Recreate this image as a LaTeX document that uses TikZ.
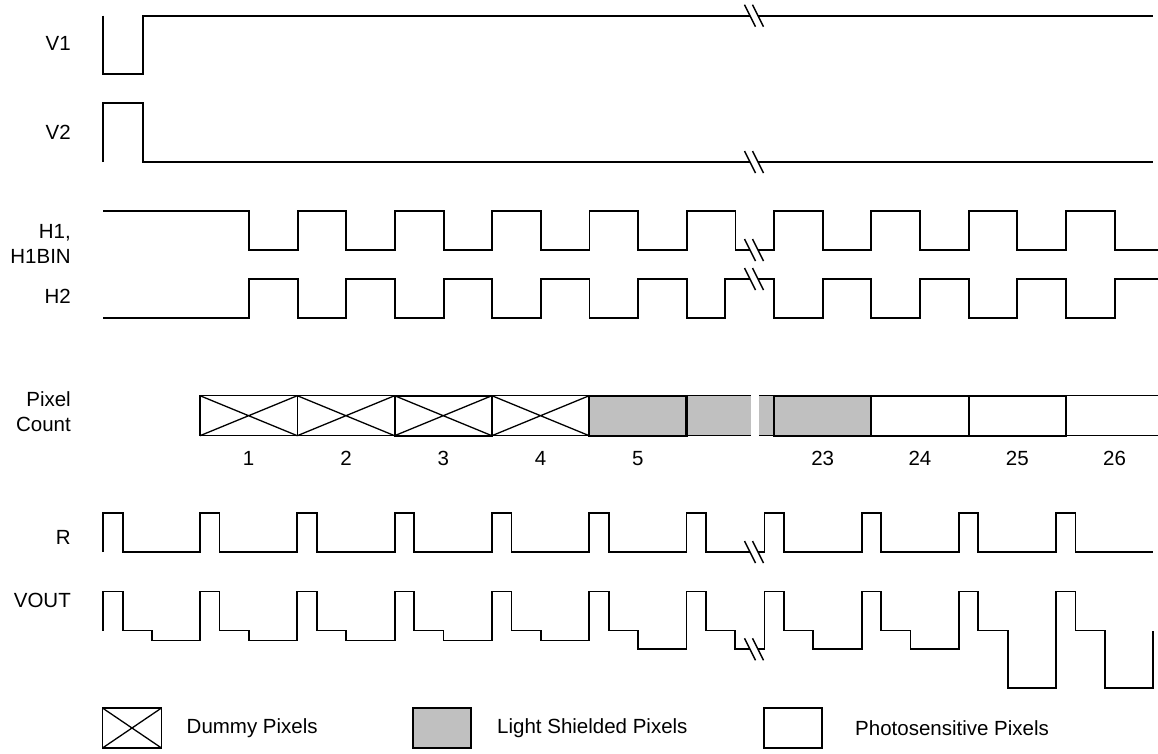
\documentclass[tikz,border=0pt]{standalone}
\usepackage{fontspec}
\setmainfont{Liberation Sans}
\usetikzlibrary{positioning}
\definecolor{shieldgray}{RGB}{192,192,192}
\newcommand{\brkmark}[1]{\foreach \bx in {750,758}{\draw[slash] ({\bx-5.5},{#1-11}) -- ++(11,22);}}
\begin{document}
\begin{tikzpicture}[x=1pt, y=-1pt,
    wave/.style={line width=1.8pt, line join=miter},
    slash/.style={line width=1.5pt},
    thinline/.style={line width=1.3pt},
    lbl/.style={anchor=east, inner sep=0pt, align=right, font=\fontsize{20.5}{25}\selectfont},
    txt/.style={inner sep=0pt, font=\fontsize{20.5}{25}\selectfont},
    pixbox/.style={draw, line width=1.3pt, minimum width=97.3pt, minimum height=40pt, inner sep=0pt, outer sep=0pt},
    boldbox/.style={pixbox, line width=2.2pt},
    shielded/.style={fill=shieldgray}
]
\useasboundingbox (0,0) rectangle (1158,753);

\node[lbl] (lv1) at (71,43.5) {V1};
\node[lbl] (lv2) at (71,132.5) {V2};
\node[lbl] (lh1) at (71,244) {H1,\\H1BIN};
\node[lbl] (lh2) at (71,296) {H2};
\node[lbl] (lpc) at (71,412) {Pixel\\Count};
\node[lbl] (lr) at (71,537.5) {R};
\node[lbl] (lvout) at (71,600) {VOUT};

\draw[wave] (103,15.7) -- (103,74) -| (143,15.7) -- (750,15.7);
\draw[wave] (758,15.7) -- (1153,15.7);
\draw[wave] (103,162) -- (103,103) -| (143,162) -- (750,162);
\draw[wave] (758,162) -- (1153,162);

\draw[wave] (103,211) foreach \tk in {249,346.3,443.6,540.9,638.2} {-| (\tk,250) -| ({\tk+48.6},211)} -| (735.5,250) -- (750,250);
\draw[wave] (758,250) -| (774,211) foreach \tk in {822.7,920,1017.3} {-| (\tk,250) -| ({\tk+48.6},211)} -| (1114.6,250) -- (1158,250);
\draw[wave] (103,318) foreach \tk in {249,346.3,443.6,540.9,638.2} {-| (\tk,279) -| ({\tk+48.6},318)} -| (725,279) -- (750,279);
\draw[wave] (758,279) -| (774,318) foreach \tk in {822.7,920,1017.3} {-| (\tk,279) -| ({\tk+48.6},318)} -| (1114.6,279) -- (1158,279);

\draw[wave] (103,552) -- (103,513) -| (122.7,552) foreach \tk in {200,297.3,394.6,491.9,589.2,686.5} {-| (\tk,513) -| ({\tk+19.5},552)} -- (750,552);
\draw[wave] (758,552) -| (764.4,513) -| (784,552) foreach \tk in {861.6,958.8,1056} {-| (\tk,513) -| ({\tk+19.5},552)} -- (1153,552);

\draw[wave] (103,630.5) -- (103,591.5) -| (122.7,630.5) -| (151.7,640.5) foreach \tk/\lv in {200/640.5,297.3/640.5,394.6/640.5,491.9/640.5,589.2/649.3,686.5/649.3} {-| (\tk,591.5) -| ({\tk+19.5},630.5) -| ({\tk+48.8},\lv)} -- (750,649.3);
\draw[wave] (758,649.3) -| (764.4,591.5) -| (784,630.5) -| (813.3,649.3) foreach \tk/\lv in {861.6/649.3,958.8/688.3,1056/688.3} {-| (\tk,591.5) -| ({\tk+19.5},630.5) -| ({\tk+48.8},\lv)} -| (1153,630.5);

\foreach \yb in {15.7,162,250,279,552,649.3} {\brkmark{\yb}}

\fill[shieldgray] (686.5,395.7) rectangle (750.7,435.7);
\fill[shieldgray] (759.3,395.7) rectangle (774,435.7);
\draw[thinline] (686.5,395.7) -- (750.7,395.7) (686.5,435.7) -- (750.7,435.7);
\draw[thinline] (759.3,395.7) -- (774,395.7) (759.3,435.7) -- (774,435.7);
\node[pixbox] (p1) at (248.65,415.7) {};
\node[pixbox] (p2) at (345.95,415.7) {};
\node[boldbox] (p3) at (443.25,415.7) {};
\node[pixbox] (p4) at (540.55,415.7) {};
\node[boldbox, shielded] (p5) at (637.85,415.7) {};
\node[pixbox] (p26) at (1114.55,415.7) {};
\node[boldbox, shielded] (p23) at (822.65,415.7) {};
\node[boldbox] (p24) at (919.95,415.7) {};
\node[boldbox] (p25) at (1017.25,415.7) {};
\foreach \p in {p1,p2,p3,p4}
  \draw[thinline] (\p.north west) -- (\p.south east) (\p.south west) -- (\p.north east);
\foreach \p/\n in {p1/1,p2/2,p3/3,p4/4,p5/5,p23/23,p24/24,p25/25,p26/26}
  \node[txt, below=15pt of \p] (n\n) {\n};

\node[pixbox, minimum width=59pt] (legd) at (132,728) {};
\draw[thinline] (legd.north west) -- (legd.south east) (legd.south west) -- (legd.north east);
\node[txt, right=25pt of legd] (legdt) {Dummy Pixels};
\node[pixbox, shielded, minimum width=58pt] (legs) at (442,728) {};
\node[txt, right=26pt of legs] (legst) {Light Shielded Pixels};
\node[pixbox, minimum width=58pt] (legp) at (793,728) {};
\node[txt, right=33pt of legp] (legpt) {Photosensitive Pixels};
\end{tikzpicture}
\end{document}
